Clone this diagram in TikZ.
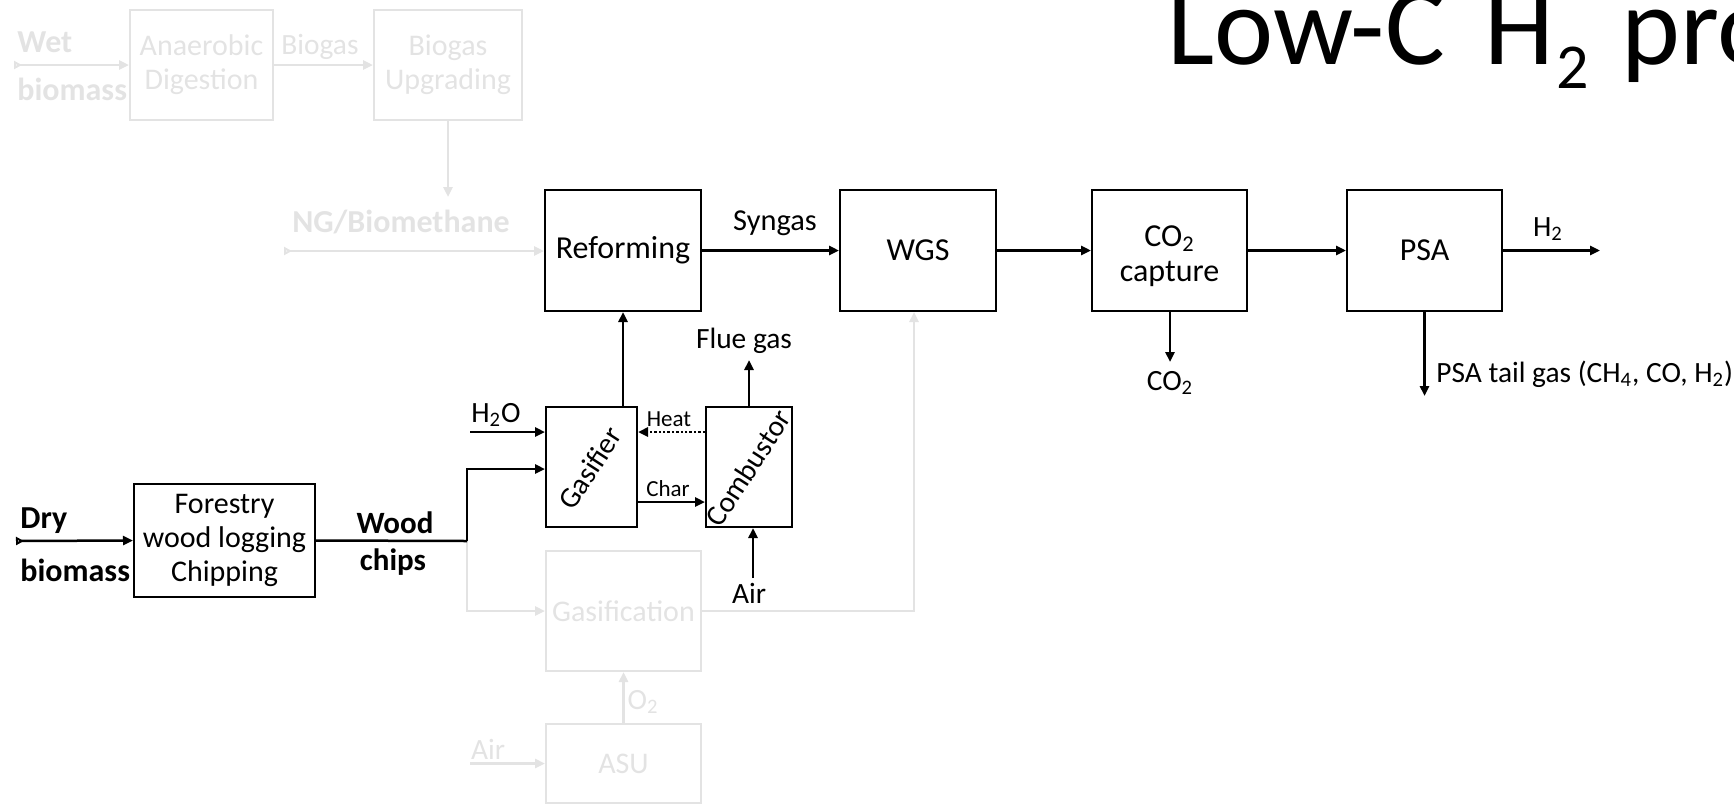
\documentclass[tikz,border=0pt]{standalone}
\usepackage{fontspec}
\setmainfont{Carlito}
\usetikzlibrary{arrows.meta,calc}
\definecolor{lg}{RGB}{227,227,227}
\newcommand\sbs[1]{\textsubscript{#1}}
\begin{document}
\begin{tikzpicture}[x=0.5pt,y=-0.5pt,
  box/.style={draw, line width=1pt, inner sep=0pt, align=center, font=\fontsize{16}{17}\selectfont},
  gbox/.style={box, draw=lg, text=lg, font=\fontsize{15}{17}\selectfont},
  lbl/.style={inner sep=0pt, align=center, font=\fontsize{14.7}{17}\selectfont},
  glbl/.style={lbl, text=lg},
  blbl/.style={inner sep=0pt, font=\fontsize{16}{18}\selectfont\bfseries},
  smalllbl/.style={inner sep=0pt, font=\fontsize{11.5}{13}\selectfont},
  flow/.style={line width=1.25pt, -{Triangle[length=5pt,width=4.5pt]}},
  gflow/.style={flow, draw=lg},
  srcflow/.style={line width=1.25pt, {Triangle[open,reversed,length=4pt,width=4pt]}-{Triangle[length=5pt,width=4.5pt]}},
  plain/.style={line width=1.25pt}
]
\useasboundingbox (0,0) rectangle (1734,804);
\clip (0,0) rectangle (1734,804);

% title
\node[anchor=base west, inner sep=0pt, font=\fontsize{56}{60}\selectfont] (title) at (1167,64)
  {\makebox[158.5pt][l]{Low-C}\makebox[36pt][l]{H}\makebox[32.5pt][l]{\raisebox{-12pt}{\fontsize{32}{33}\selectfont 2}}pro};

% grey (inactive) part
\node[gbox, minimum width=71.5pt, minimum height=55pt] (anaer) at (201.5,65) {Anaerobic\\Digestion};
\node[gbox, minimum width=74pt, minimum height=55pt] (upgr) at (448,65) {Biogas\\Upgrading};
\node[blbl, text=lg, anchor=west] (wet1) at (17,42) {Wet};
\node[blbl, text=lg, anchor=west] (wet2) at (17,89) {biomass};
\node[glbl] (biogasl) at (320,47) {Biogas};
\node[blbl, text=lg] (ngl) at (401,222) {NG/Biomethane};
\coordinate (wetin) at (14,65);
\coordinate (ngtip) at (448,197);
\coordinate (ngin) at (284,251);
\node[gbox, minimum width=77.5pt, minimum height=60pt] (gasif) at (623.5,611) {Gasification};
\node[gbox, minimum width=77.5pt, minimum height=39.5pt] (asu) at (623.5,763.5) {ASU};
\node[glbl] (o2l) at (643,702) {O\sbs{2}};
\node[glbl] (airgl) at (488,749) {Air};
\coordinate (airgin) at (470,763.5);
\coordinate (g2) at (914,611);

% black boxes
\node[box, minimum width=78pt, minimum height=60.5pt] (reform) at (623,250.5) {Reforming};
\node[box, minimum width=78pt, minimum height=60.5pt] (wgs) at (918,250.5) {WGS};
\node[box, minimum width=77.5pt, minimum height=60.5pt] (cc) at (1169.5,250.5) {};
\node[inner sep=0pt, align=center, font=\fontsize{16}{17.5}\selectfont] (cctext) at (1169.5,256) {CO\sbs{2}\\capture};
\node[box, minimum width=77.5pt, minimum height=60.5pt] (psa) at (1424.5,250.5) {PSA};
\node[box, minimum width=90.5pt, minimum height=56.5pt, font=\fontsize{15}{17}\selectfont] (forest) at (224.5,540.5) {Forestry\\wood logging\\Chipping};
\node[box, minimum width=45.5pt, minimum height=60pt] (gasifier) at (591.5,467) {};
\node[inner sep=0pt, rotate=57, font=\fontsize{14.7}{17}\selectfont] (gasifiert) at (590,468) {Gasifier};
\node[box, minimum width=43pt, minimum height=60pt] (comb) at (749,467) {};
\node[inner sep=0pt, rotate=57, font=\fontsize{14.7}{17}\selectfont] (combt) at (748,468) {Combustor};

% labels
\node[blbl, anchor=west] (dry1) at (20,521) {Dry};
\node[blbl, anchor=west] (dry2) at (20,570) {biomass};
\node[blbl, font=\fontsize{15.5}{18}\selectfont\bfseries] (wood1) at (395,523) {Wood};
\node[blbl, font=\fontsize{15.5}{18}\selectfont\bfseries] (wood2) at (393,562) {chips};
\node[lbl, font=\fontsize{15.2}{17}\selectfont] (syngasl) at (775,223) {Syngas};
\node[lbl] (h2l) at (1548,229) {H\sbs{2}};
\node[lbl] (co2l) at (1170,383) {CO\sbs{2}};
\node[lbl, anchor=west] (tail) at (1436,374) {PSA tail gas (CH\sbs{4}, CO, H\sbs{2})};
\node[lbl] (fluel) at (744,341) {Flue gas};
\node[lbl] (airl) at (749,593) {Air};
\node[lbl] (h2ol) at (496,415) {H\sbs{2}O};
\node[smalllbl] (heatl) at (669,419) {Heat};
\node[smalllbl] (charl) at (668,489) {Char};

\coordinate (dryin) at (16,541);
\coordinate (j1) at (467,541);
\coordinate (h2oin) at (470,432);
\coordinate (flue) at (749,360);
\coordinate (airin) at (753,578);
\coordinate (h2out) at (1600,250.5);
\coordinate (co2out) at (1170,362);
\coordinate (tailout) at (1424.5,396);

% grey connectors
\draw[srcflow, draw=lg] (wetin) -- (anaer.west);
\draw[gflow] (anaer.east) -- (upgr.west);
\draw[gflow] (upgr.south) -- (ngtip);
\draw[srcflow, draw=lg] (ngin) -- (ngin -| reform.west);
\draw[gflow] (j1) |- (gasif.west);
\draw[gflow] (gasif.east) -- (g2) -- (g2 |- wgs.south);
\draw[gflow] (asu.north) -- (gasif.south);
\draw[gflow] (airgin) -- (asu.west);

% black connectors
\draw[srcflow] (dryin) -- (forest.west);
\draw[plain] (forest.east) -- (j1);
\draw[flow] (j1) |- ($(gasifier.west)+(0,2)$);
\draw[flow] (h2oin) -- (h2oin -| gasifier.west);
\draw[flow] (reform.south |- gasifier.north) -- (reform.south);
\draw[line width=1.25pt, dash pattern=on 1.2pt off 1pt, -{Triangle[length=5pt,width=4.5pt]}] (comb.west |- h2oin) -- (gasifier.east |- h2oin);
\draw[flow] ($(gasifier.east)+(0,35)$) -- ($(comb.west)+(0,35)$);
\draw[flow] (comb.north) -- (flue);
\draw[flow] (airin) -- (airin |- comb.south);
\draw[flow] (reform.east) -- (wgs.west);
\draw[flow] (wgs.east) -- (cc.west);
\draw[flow] (cc.east) -- (psa.west);
\draw[flow] (psa.east) -- (h2out);
\draw[flow] (cc.south -| co2out) -- (co2out);
\draw[flow] (psa.south) -- (tailout);
\end{tikzpicture}
\end{document}
